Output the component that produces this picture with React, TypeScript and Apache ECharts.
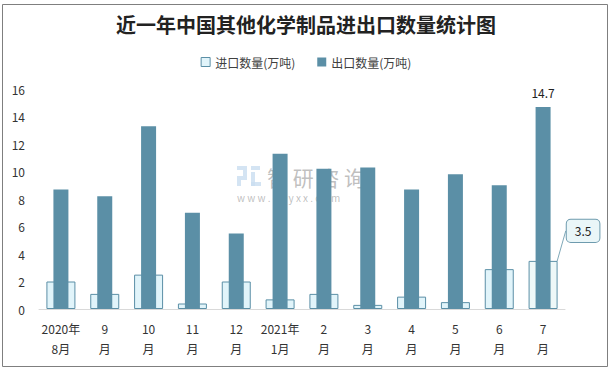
import React, { useEffect, useRef } from "react";
import * as echarts from "echarts";

const categories = ["2020年\n8月", "9\n月", "10\n月", "11\n月", "12\n月", "2021年\n1月", "2\n月", "3\n月", "4\n月", "5\n月", "6\n月", "7\n月"];
const importVals = [2.0, 1.1, 2.5, 0.4, 2.0, 0.7, 1.1, 0.3, 0.9, 0.5, 2.9, 3.5];
const exportVals = [8.7, 8.2, 13.3, 7.0, 5.5, 11.3, 10.2, 10.3, 8.7, 9.8, 9.0, 14.7];
const yTicks = { min: 0, max: 16, interval: 2 };
const title = "近一年中国其他化学制品进出口数量统计图";
const seriesNames = ["进口数量(万吨)", "出口数量(万吨)"];

const FONT = "'Noto Sans CJK SC', 'Microsoft YaHei', sans-serif";
const DARK = "#5B8FA6";
const LIGHT = "#E1F4FA";

export default function App() {
  const ref = useRef<HTMLDivElement>(null);
  useEffect(() => {
    document.body.style.margin = "0";
    const chart = echarts.init(ref.current!, null, { renderer: "svg" });
    const last = importVals.length - 1;
    chart.setOption({
      animation: false,
      backgroundColor: "#fff",
      textStyle: { fontFamily: FONT },
      title: {
        text: title,
        left: "center",
        top: 9,
        textStyle: { fontSize: 20, fontWeight: "bold", color: "#222", fontFamily: FONT },
      },
      legend: {
        top: 51,
        left: "center",
        itemWidth: 9,
        itemHeight: 9,
        itemGap: 22,
        textStyle: { fontSize: 12, color: "#404040", fontFamily: FONT },
        data: [
          { name: seriesNames[0], icon: "rect", itemStyle: { color: LIGHT, borderColor: DARK, borderWidth: 1 } },
          { name: seriesNames[1], icon: "rect" },
        ],
      },
      grid: { left: 39, right: 47, top: 89, bottom: 62 },
      xAxis: [
        {
          type: "category",
          data: categories,
          axisLine: { lineStyle: { color: "#D9D9D9", width: 1 } },
          axisTick: { show: false },
          axisLabel: { color: "#333", fontSize: 12, lineHeight: 20, margin: 9, interval: 0, fontFamily: FONT },
        },
        {
          type: "category",
          data: categories,
          show: false,
        },
      ],
      yAxis: {
        type: "value",
        min: yTicks.min,
        max: yTicks.max,
        interval: yTicks.interval,
        axisLine: { show: false },
        axisTick: { show: false },
        splitLine: { show: false },
        axisLabel: { color: "#333", fontSize: 12, margin: 14, fontFamily: FONT },
      },
      series: [
        {
          name: seriesNames[0],
          type: "bar",
          xAxisIndex: 0,
          barWidth: 29,
          z: 2,
          itemStyle: { color: LIGHT, borderColor: DARK, borderWidth: 1 },
          data: importVals.map((v, i) =>
            i === last
              ? {
                  value: v,
                  itemStyle: { color: "#EEF8F8" },
                  label: {
                    show: true,
                    position: "top",
                    distance: 5,
                    color: "#222",
                    fontSize: 12,
                    backgroundColor: "#EAF6F8",
                    borderColor: "#6E9BAE",
                    borderWidth: 1,
                    borderRadius: 4,
                    padding: [5, 8],
                  },
                  labelLine: { show: true, lineStyle: { color: "#7FA8B8", width: 1 } },
                }
              : v
          ),
          labelLayout: (p: any) => (p.dataIndex === last ? { dx: 40, dy: -14 } : {}),
        },
        {
          name: seriesNames[1],
          type: "bar",
          xAxisIndex: 1,
          barWidth: 15,
          z: 3,
          itemStyle: { color: DARK },
          label: {
            show: true,
            position: "top",
            distance: 8,
            color: "#222",
            fontSize: 12,
            formatter: (p: any) => (p.dataIndex === last ? String(p.value) : ""),
          },
          data: exportVals,
        },
      ],
      graphic: [
        {
          type: "rect",
          shape: { x: 2.5, y: 4.5, width: 605, height: 362 },
          style: { fill: "none", stroke: "#7F7F7F", lineWidth: 1 },
          z: 100,
        },
        {
          type: "group",
          z: 100,
          children: [
            { type: "rect", shape: { x: 237, y: 166, width: 10, height: 4 }, style: { fill: "#C9DDF0", opacity: 0.8 } },
            { type: "rect", shape: { x: 243, y: 170, width: 4, height: 6 }, style: { fill: "#C9DDF0", opacity: 0.8 } },
            { type: "rect", shape: { x: 237, y: 176, width: 10, height: 4 }, style: { fill: "#C9DDF0", opacity: 0.8 } },
            { type: "rect", shape: { x: 237, y: 180, width: 4, height: 6 }, style: { fill: "#C9DDF0", opacity: 0.8 } },
            { type: "rect", shape: { x: 251, y: 166, width: 9, height: 4 }, style: { fill: "#C9DDF0", opacity: 0.8 } },
            { type: "rect", shape: { x: 251, y: 172, width: 4, height: 14 }, style: { fill: "#C9DDF0", opacity: 0.8 } },
            { type: "rect", shape: { x: 251, y: 182, width: 10, height: 4 }, style: { fill: "#C9DDF0", opacity: 0.8 } },
            {
              type: "text",
              x: 267,
              y: 166,
              style: {
                text: "智 研 咨 询",
                fontSize: 21,
                lineHeight: 22,
                verticalAlign: "top",
                fill: "#8A8A8A",
                opacity: 0.55,
                fontFamily: FONT,
              },
            },
            {
              type: "text",
              x: 237,
              y: 192,
              style: {
                text: "w w w . c h y x x . c o m",
                fontSize: 10,
                lineHeight: 11,
                verticalAlign: "top",
                fill: "#8A8A8A",
                opacity: 0.55,
                fontFamily: FONT,
              },
            },
          ],
        },
      ],
    });
    return () => chart.dispose();
  }, []);
  return <div ref={ref} style={{ width: 612, height: 371 }} />;
}
